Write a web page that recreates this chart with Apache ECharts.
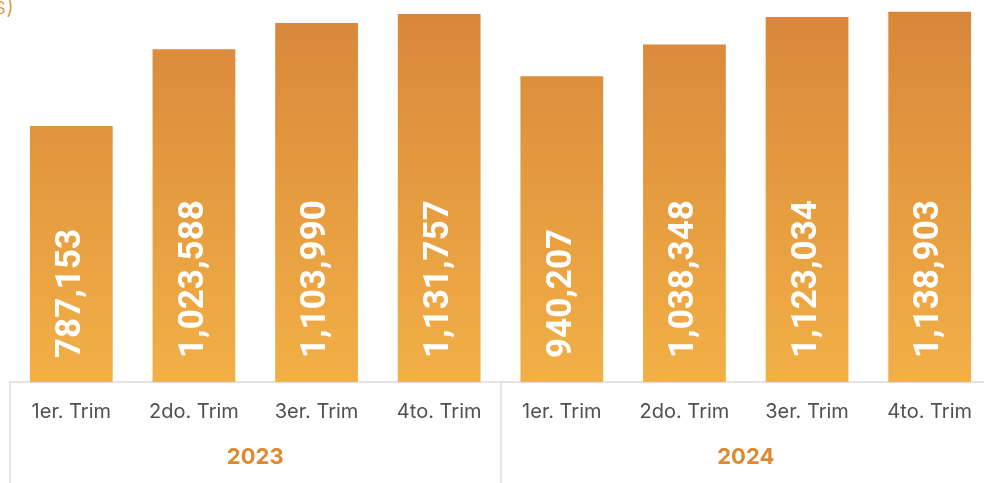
<!DOCTYPE html>
<html><head><meta charset="utf-8">
<script src="https://cdn.jsdelivr.net/npm/echarts@6/dist/echarts.min.js"></script>
<style>html,body{margin:0;padding:0;background:#fff;overflow:hidden;width:984px;height:483px}#c{width:992px;height:483px}</style>
</head><body><div id="c"></div>
<script>
const categories = ['1er. Trim','2do. Trim','3er. Trim','4to. Trim','1er. Trim','2do. Trim','3er. Trim','4to. Trim'];
const years = ['2023','2024'];
const values = [787153, 1023588, 1103990, 1131757, 940207, 1038348, 1123034, 1138903];
const unitLabel = '(Miles)';

const chart = echarts.init(document.getElementById('c'));
chart.setOption({
  animation: false,
  grid: { left: 10, top: 0, right: 1, bottom: 101, containLabel: false },
  graphic: [{ type: 'text', x: 14, y: -4, style: { text: unitLabel, textAlign: 'right', textVerticalAlign: 'top', fill: '#E0913A', font: '300 23px Inter, sans-serif' } }],
  xAxis: [{
    type: 'category', data: categories,
    axisLine: { show: true, lineStyle: { color: '#dcdcdc', width: 1.5 } },
    axisTick: { show: false },
    axisLabel: { color: '#505050', fontSize: 20, fontFamily: 'Inter, sans-serif', margin: 20 }
  }, {
    type: 'category', data: years, position: 'bottom',
    axisLine: { show: false },
    axisTick: { show: true, length: 102, lineStyle: { color: '#dcdcdc', width: 1.5 } },
    axisLabel: { color: '#DD8A30', fontSize: 22, fontWeight: 'bold', fontFamily: 'Inter, sans-serif', margin: 64 }
  }],
  yAxis: { type: 'value', min: 0, max: 1175000, show: false, splitLine: { show: false } },
  series: [{
    type: 'bar', data: values, barWidth: '67.5%', xAxisIndex: 0,
    itemStyle: {
      color: { type: 'linear', x: 0, y: 0, x2: 0, y2: 382, global: true,
        colorStops: [{ offset: 0, color: '#D8863A' }, { offset: 1, color: '#F2B046' }] }
    },
    label: {
      show: true, position: 'insideBottom', rotate: 90, align: 'left', verticalAlign: 'middle', distance: 24,
      color: '#fff', fontSize: 35, fontWeight: 'bold', fontFamily: 'Roboto, sans-serif',
      formatter: p => p.value.toLocaleString('en-US')
    }
  }]
});
</script></body></html>
